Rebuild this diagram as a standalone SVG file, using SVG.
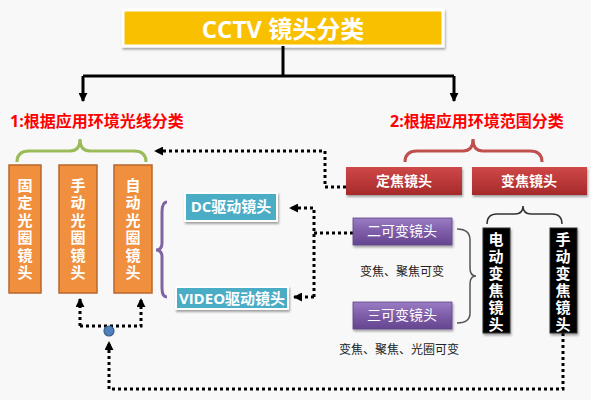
<svg xmlns="http://www.w3.org/2000/svg" width="591" height="400" viewBox="0 0 591 400">
<defs>
<style>
text{font-family:"Open Sans","Noto Sans CJK SC",sans-serif}
.w{fill:#fff}
.b{font-weight:bold}
.orange{fill:#F0903F;stroke:#B8672B;stroke-width:1.5}
.blk{fill:#000;stroke:#333;stroke-width:1}
.solid{fill:none;stroke:#000;stroke-width:3}
.dot{fill:none;stroke:#000;stroke-width:3;stroke-dasharray:3 3}
.brace{fill:none;stroke-width:3}
text.vt{font-family:"Liberation Sans","Noto Sans CJK SC",sans-serif;font-size:15px;font-weight:bold;fill:#fff;text-anchor:middle}
.lbl{font-size:12px;fill:#222;text-anchor:middle}
.red{font-size:16px;font-weight:bold;fill:#FF0000}
</style>
<linearGradient id="gr" x1="0" y1="0" x2="0" y2="1"><stop offset="0" stop-color="#D04848"/><stop offset="1" stop-color="#A62A2A"/></linearGradient>
<linearGradient id="gp" x1="0" y1="0" x2="0" y2="1"><stop offset="0" stop-color="#9A7CC4"/><stop offset="0.5" stop-color="#7E5DA8"/><stop offset="1" stop-color="#664590"/></linearGradient>
<filter id="sh" x="-10%" y="-20%" width="130%" height="150%"><feDropShadow dx="1" dy="2" stdDeviation="1.2" flood-color="#000" flood-opacity="0.35"/></filter>
<marker id="ah" viewBox="0 0 10 10" refX="9" refY="5" markerWidth="3" markerHeight="3" orient="auto"><path d="M0,0 L10,5 L0,10 z" fill="#000"/></marker>
</defs>
<rect width="591" height="400" fill="#F8F8F8"/>

<g id="title">
<rect x="123" y="10" width="320" height="36" fill="#F9C000" stroke="#fff" stroke-width="3" filter="url(#sh)"/>
<text x="283" y="38" font-size="24" class="w b" text-anchor="middle">CCTV 镜头分类</text>
</g>

<g id="labels">
<text x="10" y="127" class="red">1:根据应用环境光线分类</text>
<text x="390" y="127" class="red">2:根据应用环境范围分类</text>
</g>

<g id="braces">
<path class="brace" stroke="#9BBB59" d="M17,162 Q17,151 29,151 L70,151 Q80,151 80,139 Q80,151 90,151 L134,151 Q146,151 146,162"/>
<path class="brace" stroke="#C0504D" d="M405,162 Q405,151 417,151 L463,151 Q473,151 473,139 Q473,151 483,151 L530,151 Q542,151 542,162"/>
<path fill="none" stroke="#333" stroke-width="1.5" d="M487,224 Q487,214 497,214 L515,214 Q523,214 523,206 Q523,214 531,214 L552,214 Q562,214 562,224"/>
<path fill="none" stroke="#555" stroke-width="1.5" d="M457,229 Q470,229 470,240 L470,268 Q470,276 476,276 Q470,276 470,284 L470,313 Q470,323 457,323"/>
<path class="brace" stroke="#8064A2" d="M167,202 Q162,202 162,212 L162,243 Q162,250 156,250 Q162,250 162,257 L162,288 Q162,297 167,297"/>
</g>

<g id="connectors">
<path class="solid" d="M283,46 V76 M83,76 H454"/>
<path class="solid" d="M83,76 V101" marker-end="url(#ah)"/>
<path class="solid" d="M454,76 V101" marker-end="url(#ah)"/>
<path class="dot" d="M346,187 H325 V151 H155" marker-end="url(#ah)"/>
<path class="dot" d="M353,233 H314"/>
<path class="dot" d="M314,297 V208 H290" marker-end="url(#ah)"/>
<path class="dot" d="M314,297 H294" marker-end="url(#ah)"/>
<path class="dot" d="M80,326 V299" marker-end="url(#ah)"/>
<path class="dot" d="M80,326 H141 V299" marker-end="url(#ah)"/>
<path class="dot" d="M563,333 V389 H109 V342" marker-end="url(#ah)"/>
<circle cx="109" cy="331" r="5" fill="#4F81BD" stroke="#385D8A" stroke-width="1.2"/>
</g>

<g id="fixed-iris">
<rect x="9" y="165" width="32" height="128" class="orange"/>
<text class="vt"><tspan x="25" y="191">固</tspan><tspan x="25" y="208">定</tspan><tspan x="25" y="226">光</tspan><tspan x="25" y="243">圈</tspan><tspan x="25" y="261">镜</tspan><tspan x="25" y="278">头</tspan></text>
</g>
<g id="manual-iris">
<rect x="59" y="165" width="38" height="128" class="orange"/>
<text class="vt"><tspan x="78" y="191">手</tspan><tspan x="78" y="208">动</tspan><tspan x="78" y="226">光</tspan><tspan x="78" y="243">圈</tspan><tspan x="78" y="261">镜</tspan><tspan x="78" y="278">头</tspan></text>
</g>
<g id="auto-iris">
<rect x="114" y="165" width="38" height="128" class="orange"/>
<text class="vt"><tspan x="133" y="191">自</tspan><tspan x="133" y="208">动</tspan><tspan x="133" y="226">光</tspan><tspan x="133" y="243">圈</tspan><tspan x="133" y="261">镜</tspan><tspan x="133" y="278">头</tspan></text>
</g>

<g id="dc">
<rect x="185" y="193" width="92" height="28" fill="#4BACC6" stroke="#fff" stroke-width="2" filter="url(#sh)"/>
<text x="231" y="212" font-size="15" class="w b" text-anchor="middle">DC驱动镜头</text>
</g>
<g id="video">
<rect x="176" y="287" width="112" height="22" fill="#4BACC6" stroke="#fff" stroke-width="2" filter="url(#sh)"/>
<text x="232" y="304" font-size="15" class="w b" text-anchor="middle">VIDEO驱动镜头</text>
</g>

<g id="fixed-focal">
<rect x="346" y="167" width="116" height="28" fill="url(#gr)" filter="url(#sh)"/>
<text x="404" y="186" font-size="14" class="w b" text-anchor="middle">定焦镜头</text>
</g>
<g id="zoom">
<rect x="472" y="167" width="115" height="28" fill="url(#gr)" filter="url(#sh)"/>
<text x="529" y="186" font-size="14" class="w b" text-anchor="middle">变焦镜头</text>
</g>

<g id="two-var">
<rect x="353" y="218" width="99" height="27" fill="url(#gp)" stroke="#5E4484" stroke-width="0.8" filter="url(#sh)"/>
<text x="402" y="236" font-size="14" class="w" text-anchor="middle">二可变镜头</text>
</g>
<g id="three-var">
<rect x="353" y="302" width="99" height="27" fill="url(#gp)" stroke="#5E4484" stroke-width="0.8" filter="url(#sh)"/>
<text x="402" y="320" font-size="14" class="w" text-anchor="middle">三可变镜头</text>
</g>
<text x="402" y="276" class="lbl">变焦、聚焦可变</text>
<text x="399" y="354" class="lbl">变焦、聚焦、光圈可变</text>

<g id="motor-zoom">
<rect x="483" y="228" width="27" height="105" class="blk" filter="url(#sh)"/>
<text class="vt"><tspan x="496" y="245">电</tspan><tspan x="496" y="262">动</tspan><tspan x="496" y="279">变</tspan><tspan x="496" y="296">焦</tspan><tspan x="496" y="313">镜</tspan><tspan x="496" y="330">头</tspan></text>
</g>
<g id="manual-zoom">
<rect x="550" y="228" width="27" height="105" class="blk" filter="url(#sh)"/>
<text class="vt"><tspan x="563" y="245">手</tspan><tspan x="563" y="262">动</tspan><tspan x="563" y="279">变</tspan><tspan x="563" y="296">焦</tspan><tspan x="563" y="313">镜</tspan><tspan x="563" y="330">头</tspan></text>
</g>
</svg>
